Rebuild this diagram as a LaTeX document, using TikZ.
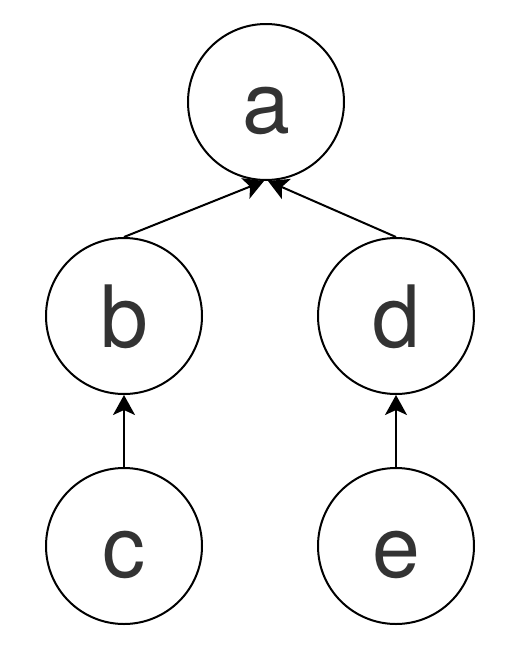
\documentclass[tikz,border=0pt]{standalone}
\usepackage{fontspec}
\setmainfont{TeX Gyre Heros}
\usetikzlibrary{arrows.meta}
\definecolor{txt}{HTML}{333333}
\begin{document}
\begin{tikzpicture}[x=1pt,y=-1pt,
  vert/.style={circle,draw=black,line width=2pt,fill=white,minimum size=156pt,inner sep=0pt,
    text=txt,font=\fontsize{86}{86}\selectfont,text height=62pt,text depth=0pt},
  conn/.style={line width=2pt,-{Stealth[length=20pt,width=22pt,inset=5pt]}}]
\useasboundingbox (0,0) rectangle (512,656);
\fill[white] (0,0) rectangle (512,656);
\node[vert] (a) at (266,102) {a};
\node[vert] (b) at (124,316) {b};
\node[vert] (d) at (396,316) {d};
\node[vert] (c) at (124,546) {c};
\node[vert] (e) at (396,546) {e};
\draw[conn] (b.north) -- ([xshift=-2pt]a.south);
\draw[conn] (d.north) -- ([xshift=2pt]a.south);
\draw[conn] (c.north) -- (b.south);
\draw[conn] (e.north) -- (d.south);
\end{tikzpicture}
\end{document}
